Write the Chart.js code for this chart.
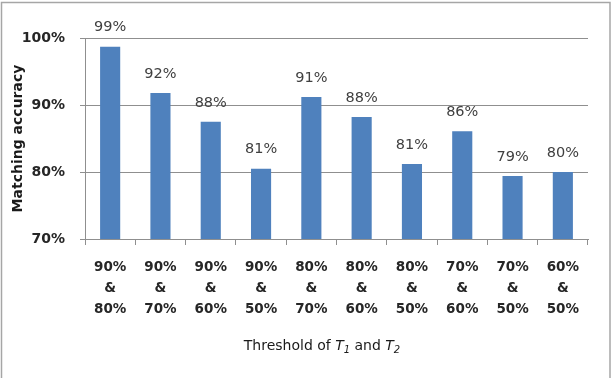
<!DOCTYPE html>
<html>
<head>
<meta charset="utf-8">
<script src="https://cdn.jsdelivr.net/npm/chart.js@4/dist/chart.umd.min.js"></script>
<style>
  html, body { margin: 0; padding: 0; background: #ffffff; }
  #wrap { width: 615px; height: 378px; position: relative; }
</style>
</head>
<body>
<div id="wrap"><canvas id="c" width="615" height="378"></canvas></div>
<script>
// ---- data ----
const categories = [
  ["90%", "&", "80%"], ["90%", "&", "70%"], ["90%", "&", "60%"], ["90%", "&", "50%"],
  ["80%", "&", "70%"], ["80%", "&", "60%"], ["80%", "&", "50%"],
  ["70%", "&", "60%"], ["70%", "&", "50%"], ["60%", "&", "50%"]
];
const accuracy = [98.7, 91.8, 87.5, 80.5, 91.2, 88.2, 81.2, 86.1, 79.4, 80.0];
const valueLabels = ["99%", "92%", "88%", "81%", "91%", "88%", "81%", "86%", "79%", "80%"];
const yTicks = [70, 80, 90, 100];
const yTitle = "Matching accuracy";
const xTitleParts = [
  { text: "Threshold of ", style: "normal" },
  { text: "T", style: "italic" },
  { text: "1", style: "sub" },
  { text: " and ", style: "normal" },
  { text: "T", style: "italic" },
  { text: "2", style: "sub" }
];

const FONT = "DejaVu Sans";
const GRID = "#8f8f8f";

const frame = {
  id: "frame",
  beforeDraw(chart) {
    const ctx = chart.ctx;
    ctx.save();
    ctx.fillStyle = "#ffffff";
    ctx.fillRect(0, 0, chart.width, chart.height);
    ctx.strokeStyle = "#a6a6a6";
    ctx.lineWidth = 1.5;
    ctx.strokeRect(1.5, 2.5, 608.5, 420);
    ctx.restore();
  }
};

const valueLabelPlugin = {
  id: "valueLabels",
  afterDatasetsDraw(chart) {
    const ctx = chart.ctx;
    const meta = chart.getDatasetMeta(0);
    ctx.save();
    ctx.font = "14.5px " + FONT;
    ctx.fillStyle = "#404040";
    ctx.textAlign = "center";
    ctx.textBaseline = "middle";
    meta.data.forEach((bar, i) => {
      ctx.fillText(valueLabels[i], bar.x, bar.y - 19);
    });
    ctx.restore();
  }
};

let xTitlePartsWidths = [];
const xTitlePlugin = {
  id: "xTitle",
  afterDraw(chart) {
    const ctx = chart.ctx;
    const fonts = {
      normal: "14px " + FONT,
      italic: "italic 14px " + FONT,
      sub: "italic 10px " + FONT
    };
    ctx.save();
    ctx.fillStyle = "#1a1a1a";
    ctx.textBaseline = "alphabetic";
    ctx.textAlign = "left";
    let total = 0;
    xTitlePartsWidths = xTitleParts.map(p => {
      ctx.font = fonts[p.style];
      const w = ctx.measureText(p.text).width;
      total += w;
      return w;
    });
    const cx = 322, baseY = 350;
    let x = cx - total / 2;
    xTitleParts.forEach((p, i) => {
      ctx.font = fonts[p.style];
      ctx.fillText(p.text, x, p.style === "sub" ? baseY + 3 : baseY);
      x += xTitlePartsWidths[i];
    });
    ctx.restore();
  }
};

new Chart(document.getElementById("c"), {
  type: "bar",
  data: {
    labels: categories,
    datasets: [{
      data: accuracy,
      backgroundColor: "#4F81BD",
      borderWidth: 0,
      categoryPercentage: 1.0,
      barPercentage: 0.4
    }]
  },
  options: {
    responsive: false,
    animation: false,
    devicePixelRatio: 1,
    layout: { padding: { left: 0, top: 38, right: 27, bottom: 0 } },
    plugins: {
      legend: { display: false },
      tooltip: { enabled: false }
    },
    scales: {
      x: {
        grid: {
          display: true,
          drawOnChartArea: false,
          drawTicks: true,
          tickLength: 6,
          color: GRID,
          offset: true
        },
        border: { display: true, color: GRID, width: 1 },
        ticks: {
          color: "#262626",
          font: { family: FONT, size: 13.5, weight: "bold", lineHeight: 1.55 },
          padding: 12,
          maxRotation: 0,
          autoSkip: false
        },
        afterFit(scale) { scale.height = 139; }
      },
      y: {
        min: 70,
        max: 100,
        afterBuildTicks(scale) { scale.ticks = yTicks.map(v => ({ value: v })); },
        grid: {
          color: GRID,
          drawTicks: true,
          tickLength: 5
        },
        border: { display: true, color: GRID, width: 1 },
        ticks: {
          color: "#262626",
          font: { family: FONT, size: 14, weight: "bold" },
          padding: 15,
          callback: v => v + "%"
        },
        title: {
          display: true,
          text: yTitle,
          color: "#1a1a1a",
          font: { family: FONT, size: 14, weight: "bold", lineHeight: 1.2 },
          padding: 10
        },
        afterFit(scale) { scale.width = 85; }
      }
    }
  },
  plugins: [frame, valueLabelPlugin, xTitlePlugin]
});
</script>
</body>
</html>
